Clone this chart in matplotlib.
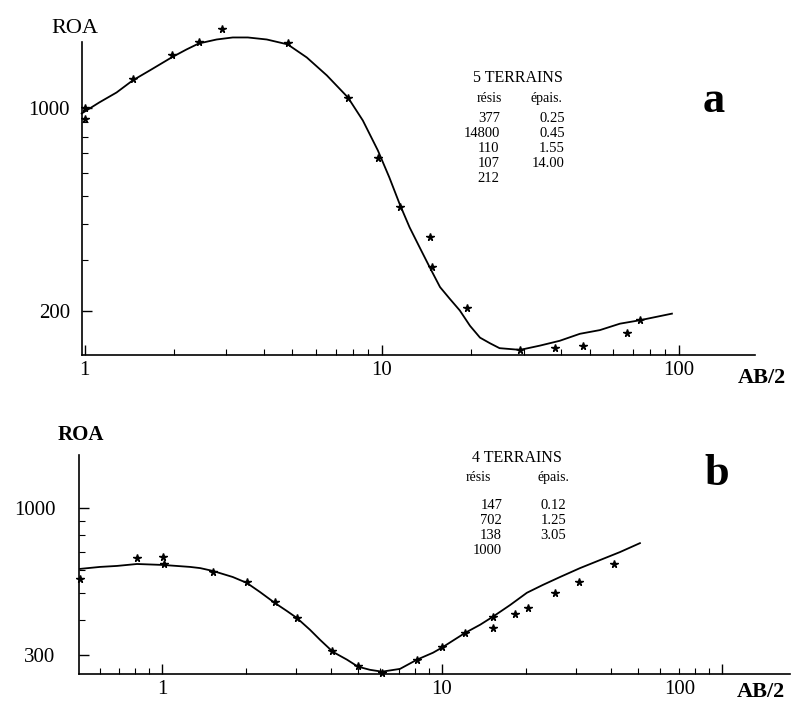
import numpy as np
import matplotlib
matplotlib.use('Agg')
import matplotlib.pyplot as plt
import matplotlib.transforms as mtransforms
from matplotlib.ticker import FixedLocator, NullFormatter, LogLocator

plt.rcParams['font.family'] = ['Liberation Serif', 'DejaVu Serif']

# courbe a : modele 5 terrains
a_curve_x = [0.977, 1.12, 1.28, 1.45, 1.655, 1.96, 2.20, 2.42, 2.78, 3.15, 3.54, 4.10, 4.82, 5.59, 6.53,
             7.69, 8.63, 9.7, 10.6, 11.5, 12.4, 13.4, 14.5, 15.7, 16.9, 18.3, 19.8, 21.4, 23.1, 24.9,
             29.2, 34.0, 39.7, 46.4, 54.2, 63.3, 73.9, 94.7]
a_curve_y = [961, 1049, 1135, 1249, 1352, 1499, 1597, 1675, 1729, 1757, 1757, 1729, 1663, 1499, 1300,
             1091, 909, 716, 578, 466, 389, 332, 283, 242, 221, 201, 178, 162, 155, 149,
             147, 152, 158, 167, 172, 181, 186, 196]
# mesures a
a_pts_x = [1.0, 1.0, 1.45, 1.96, 2.42, 2.89, 4.82, 7.69, 9.7, 11.5, 14.5, 14.7, 19.3, 29.2, 38.2, 47.7, 67.0, 74.0]
a_pts_y = [1000, 920, 1268, 1524, 1690, 1872, 1675, 1083, 673, 456, 359, 283, 205, 147, 149, 152, 168, 186]
a_resis = ['377', '14800', '110', '107', '212']
a_epais = ['0.25', '0.45', '1.55', '14.00']

# courbe b : modele 4 terrains
b_curve_x = [0.51, 0.601, 0.691, 0.815, 1.01, 1.26, 1.37, 1.52, 1.79, 2.01, 2.24, 2.53, 2.79, 3.03, 3.38,
             3.67, 4.08, 4.58, 5.01, 5.53, 6.11, 7.08, 8.14, 9.29, 10.0, 10.9, 12.1, 13.7, 15.2, 17.5,
             20.1, 22.9, 26.4, 31.1, 36.7, 43.2, 50.9]
b_curve_y = [607, 617, 622, 632, 627, 617, 611, 597, 568, 541, 502, 459, 430, 406, 368,
             339, 307, 288, 272, 265, 261, 267, 288, 305, 318, 336, 359, 384, 410, 451,
             499, 532, 568, 611, 653, 697, 750]
# mesures b
b_pts_x = [0.51, 0.815, 1.01, 1.02, 1.52, 2.01, 2.53, 3.03, 4.05, 5.01, 6.11, 8.14, 10.0, 12.1, 15.2, 15.2, 18.2, 20.3, 25.3, 30.9, 41.1]
b_pts_y = [559, 664, 669, 632, 592, 545, 463, 406, 310, 274, 259, 288, 320, 359, 410, 374, 420, 441, 499, 546, 632]
b_resis = ['147', '702', '138', '1000']
b_epais = ['0.12', '1.25', '3.05']

fig = plt.figure(figsize=(8.09, 7.06), dpi=100)


def style_axes(ax, xlim, ylim, yticks, ylabpad):
    ax.set_xscale('log')
    ax.set_yscale('log')
    ax.set_xlim(*xlim)
    ax.set_ylim(*ylim)
    for s in ['top', 'right']:
        ax.spines[s].set_visible(False)
    for s in ['left', 'bottom']:
        ax.spines[s].set_linewidth(1.2)
    ax.xaxis.set_major_locator(FixedLocator([1, 10, 100]))
    ax.set_xticklabels(['1', '10', '100'])
    ax.xaxis.set_minor_locator(LogLocator(base=10, subs=np.arange(2, 10)))
    ax.xaxis.set_minor_formatter(NullFormatter())
    ax.yaxis.set_major_locator(FixedLocator(yticks))
    ax.set_yticklabels([str(t) for t in yticks])
    ax.yaxis.set_minor_locator(LogLocator(base=10, subs=np.arange(2, 10)))
    ax.yaxis.set_minor_formatter(NullFormatter())
    ax.tick_params(which='major', direction='in', length=7, width=1, labelsize=15)
    ax.tick_params(which='minor', direction='in', length=4, width=0.8)
    ax.tick_params(axis='y', which='major', pad=ylabpad)
    ax.tick_params(axis='x', which='major', pad=4)


# ---- a ----
ax1 = fig.add_axes([0.101, 0.497, 0.832, 0.443])
style_axes(ax1, (0.977, 180), (141, 1690), [200, 1000], 8.5)
ax1.plot(a_curve_x, a_curve_y, color='black', lw=1.3, clip_on=False)
ax1.plot(a_pts_x, a_pts_y, ls='none', marker='*', ms=5.5, color='black', clip_on=False)
ax1.text(-0.01, 1.045, 'ROA', transform=ax1.transAxes, fontsize=16, ha='center', va='center')
ax1.text(0.975, -0.073, 'AB/2', transform=ax1.transAxes, fontsize=16, fontweight='bold', ha='left', va='center')
ax1.text(0.939, 0.776, 'a', transform=ax1.transAxes, fontsize=32, fontweight='bold', ha='center', va='baseline')

# tableau a
tx = ax1.transAxes
ax1.text(0.648, 0.885, '5 TERRAINS', transform=tx, fontsize=11.5, ha='center', va='center')
ax1.text(0.606, 0.821, 'résis', transform=tx, fontsize=10, ha='center', va='center')
ax1.text(0.691, 0.821, 'épais.', transform=tx, fontsize=10, ha='center', va='center')
for i, r in enumerate(a_resis):
    ax1.text(0.621, 0.757 - i * 0.048, r, transform=tx, fontsize=10.5, ha='right', va='center')
for i, e in enumerate(a_epais):
    ax1.text(0.718, 0.757 - i * 0.048, e, transform=tx, fontsize=10.5, ha='right', va='center')

# ---- b ----
ax2 = fig.add_axes([0.0977, 0.0453, 0.879, 0.310])
style_axes(ax2, (0.506, 175), (256, 1545), [300, 1000], 17)
ax2.plot(b_curve_x, b_curve_y, color='black', lw=1.3, clip_on=False)
ax2.plot(b_pts_x, b_pts_y, ls='none', marker='*', ms=5.5, color='black', clip_on=False)
ax2.text(0.003, 1.09, 'ROA', transform=ax2.transAxes, fontsize=15, fontweight='bold', ha='center', va='center')
ax2.text(0.925, -0.08, 'AB/2', transform=ax2.transAxes, fontsize=16, fontweight='bold', ha='left', va='center')
ax2.text(0.897, 0.863, 'b', transform=ax2.transAxes, fontsize=32, fontweight='bold', ha='center', va='baseline')
# le label 100 est decale a gauche dans l'original
lab = ax2.get_xticklabels()[2]
lab.set_transform(lab.get_transform() + mtransforms.ScaledTranslation(-0.42, 0, fig.dpi_scale_trans))

tx = ax2.transAxes
ax2.text(0.616, 0.986, '4 TERRAINS', transform=tx, fontsize=11.5, ha='center', va='center')
ax2.text(0.561, 0.90, 'résis', transform=tx, fontsize=10, ha='center', va='center')
ax2.text(0.667, 0.90, 'épais.', transform=tx, fontsize=10, ha='center', va='center')
for i, r in enumerate(b_resis):
    ax2.text(0.595, 0.772 - i * 0.0685, r, transform=tx, fontsize=10.5, ha='right', va='center')
for i, e in enumerate(b_epais):
    ax2.text(0.685, 0.772 - i * 0.0685, e, transform=tx, fontsize=10.5, ha='right', va='center')

fig.savefig('out.png', dpi=100)
